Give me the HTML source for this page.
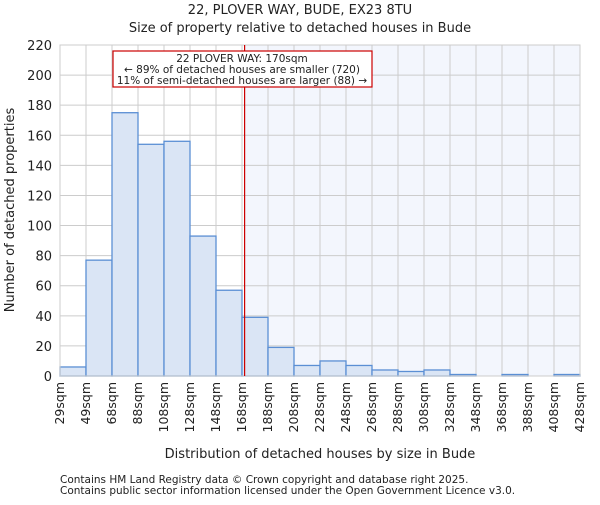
<!DOCTYPE html>
<html><head><meta charset="utf-8"><style>
body{margin:0;background:#fff;}
svg text{font-family:"DejaVu Sans","Liberation Sans",sans-serif;fill:#222;}
</style></head><body>
<svg id="c" width="600" height="500"></svg>
<script>
const binLabels=["29sqm","49sqm","68sqm","88sqm","108sqm","128sqm","148sqm","168sqm","188sqm","208sqm","228sqm","248sqm","268sqm","288sqm","308sqm","328sqm","348sqm","368sqm","388sqm","408sqm","428sqm"];
const counts=[6,77,175,154,156,93,57,39,19,7,10,7,4,3,4,1,0,1,0,1];
const yTicks=[0,20,40,60,80,100,120,140,160,180,200,220];
const markerIndex=7.1;
const NS="http://www.w3.org/2000/svg";
const svg=document.getElementById('c');
const L=60,R=580,T=45,B=376,yMax=220;
const n=counts.length;
const xs=i=>L+(R-L)*i/n;
const ys=v=>B-(B-T)*v/yMax;
function el(t,a,p){const e=document.createElementNS(NS,t);for(const k in a)e.setAttribute(k,a[k]);(p||svg).appendChild(e);return e;}
const mx=xs(markerIndex);
const sh=el('rect',{x:mx,y:T,width:R-mx,height:B-T,fill:'#f3f6fd'});


for(let i=0;i<=n;i++){const g=el('line',{x1:xs(i),x2:xs(i),y1:T,y2:B,stroke:'#cccccc','stroke-width':1});

}
yTicks.forEach(v=>{const g=el('line',{x1:L,x2:R,y1:ys(v),y2:ys(v),stroke:'#cccccc','stroke-width':1});


const t=el('text',{x:L-8,y:ys(v)+5,'text-anchor':'end','font-size':13});t.textContent=v;

});
counts.forEach((v,i)=>{if(v<=0)return;const b=el('rect',{x:xs(i),y:ys(v),width:xs(i+1)-xs(i),height:B-ys(v),fill:'#dae5f5',stroke:'#5b8fd4','stroke-width':1.3});

});
const ax=el('rect',{x:L,y:T,width:R-L,height:B-T,fill:'none',stroke:'#cccccc'});


binLabels.forEach((s,i)=>{const x=xs(i);const t=el('text',{x:x+4,y:B+6,'text-anchor':'end','font-size':12.5,transform:`rotate(-90 ${x+4} ${B+6})`});t.textContent=s;

});
const ml=el('line',{x1:mx,x2:mx,y1:T,y2:B,stroke:'#cc0000','stroke-width':1.2});


const box=el('rect',{x:113,y:51,width:259,height:36,fill:'#fff',stroke:'#cc0000','stroke-width':1.2});


["22 PLOVER WAY: 170sqm","← 89% of detached houses are smaller (720)","11% of semi-detached houses are larger (88) →"].forEach((s,i)=>{const t=el('text',{x:242,y:62+i*11,'text-anchor':'middle','font-size':10.5});t.textContent=s;

});
const t1=el('text',{x:300,y:14,'text-anchor':'middle','font-size':13});t1.textContent="22, PLOVER WAY, BUDE, EX23 8TU";


const t2=el('text',{x:300,y:32,'text-anchor':'middle','font-size':13});t2.textContent="Size of property relative to detached houses in Bude";


const xt=el('text',{x:320,y:458,'text-anchor':'middle','font-size':13});xt.textContent="Distribution of detached houses by size in Bude";


const yt=el('text',{x:14,y:210,'text-anchor':'middle','font-size':13,transform:'rotate(-90 14 210)'});yt.textContent="Number of detached properties";


["Contains HM Land Registry data © Crown copyright and database right 2025.","Contains public sector information licensed under the Open Government Licence v3.0."].forEach((s,i)=>{const t=el('text',{x:60,y:483+i*11,'font-size':10.5,fill:'#444'});t.textContent=s;

});
</script>
</body></html>
